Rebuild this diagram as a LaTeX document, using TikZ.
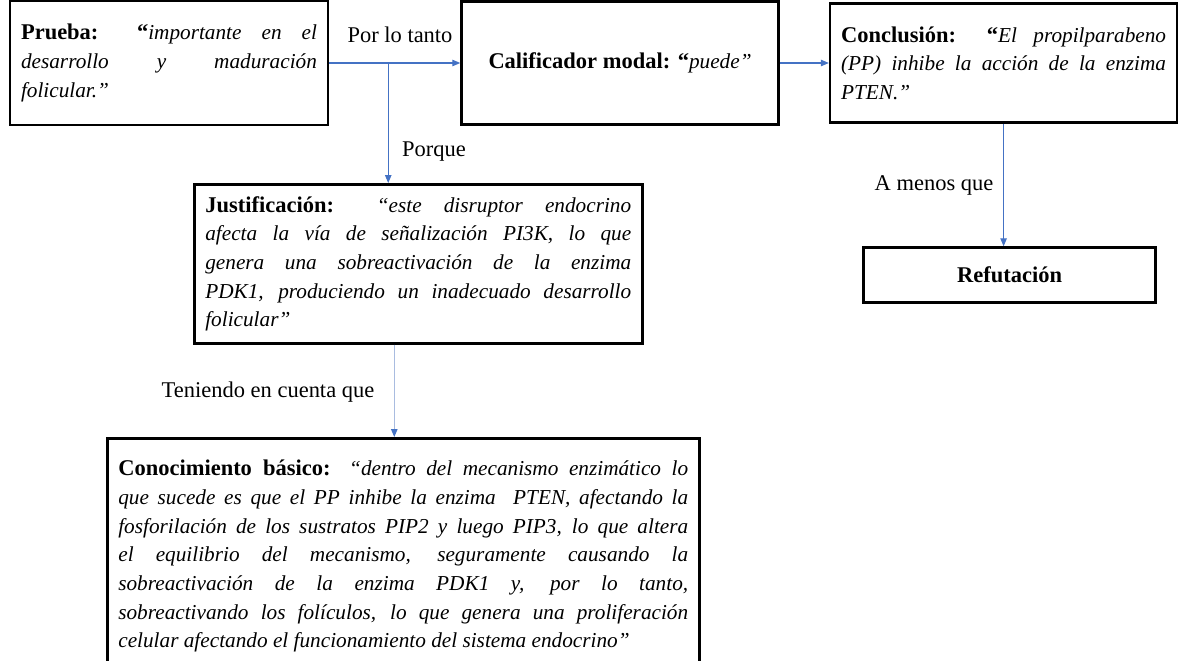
\documentclass[tikz,border=0pt]{standalone}
\usepackage{fontspec}
\setmainfont{Liberation Serif}
\usetikzlibrary{arrows.meta, positioning, calc}
\definecolor{linkblue}{HTML}{4472C4}
\definecolor{linkpale}{HTML}{A9BCE0}
\hyphenpenalty=10000
\exhyphenpenalty=10000
\emergencystretch=2em
\newcommand{\quo}[1]{{\fontsize{12.1}{16.3}\selectfont\itshape #1}}

\begin{document}
\begin{tikzpicture}[
    x=0.02cm, y=0.02cm,
    every node/.style={font=\fontsize{12.8}{16.3}\selectfont},
    blk/.style={rectangle, draw, line width=1.5pt, inner xsep=0.22cm, inner ysep=0pt, align=justify},
    lbl/.style={inner sep=1pt},
    arr/.style={-{Triangle[length=1.6mm, width=1.3mm, color=linkblue]}, linkblue, line width=0.6pt},
    arrpale/.style={arr, draw=linkpale}
]
    \useasboundingbox (0,0) rectangle (1181,-660);
    \node[blk, text width=5.92cm, minimum width=6.36cm, minimum height=2.48cm] (prueba) at (169,-63)
        {\textbf{Prueba: “}\quo{importante en el\linebreak desarrollo y maduración\linebreak folicular.”}};
    \node[blk, align=center, minimum width=6.34cm, minimum height=2.46cm, right=2.62cm of prueba] (calif)
        {\textbf{Calificador modal: “}\quo{puede”}};
    \node[blk, text width=6.5cm, minimum width=6.94cm, minimum height=2.38cm, right=0.98cm of calif] (concl)
        {\textbf{Conclusión: “}\quo{El propilparabeno\linebreak (PP) inhibe la acción de la enzima\linebreak PTEN.”}};
    \node[blk, align=center, minimum width=5.84cm, minimum height=1.1cm, below=2.45cm of concl, xshift=0.12cm] (refut)
        {\textbf{Refutación}};
    \node[blk, text width=8.52cm, minimum width=8.96cm, minimum height=3.18cm, anchor=north west] (justif) at (193,-183)
        {\textbf{Justificación:} \quo{“este disruptor endocrino\linebreak afecta la vía de señalización PI3K, lo que\linebreak genera una sobreactivación de la enzima\linebreak PDK1, produciendo un inadecuado desarrollo\linebreak folicular”}};
    \node[blk, text width=11.4cm, minimum width=11.84cm, minimum height=4.72cm, anchor=north west] (conoc) at (106,-437)
        {\textbf{Conocimiento básico:} \quo{“dentro del mecanismo enzimático lo\linebreak que sucede es que el PP inhibe la enzima \ PTEN, afectando la\linebreak fosforilación de los sustratos PIP2 y luego PIP3, lo que altera\linebreak el equilibrio del mecanismo, seguramente causando la\linebreak sobreactivación de la enzima PDK1 y, por lo tanto,\linebreak sobreactivando los folículos, lo que genera una proliferación\linebreak celular afectando el funcionamiento del sistema endocrino”}};
    % connectors
    \coordinate (split) at ($(prueba.east)!0.45!(calif.west)$);
    \coordinate (jbot) at ($(justif.south)+(-24,0)$);
    \draw[arr] (prueba.east) -- (calif.west);
    \draw[arr] (split) -- (split |- justif.north);
    \draw[arr] (calif.east) -- (concl.west);
    \draw[arr] (concl.south) -- (concl.south |- refut.north);
    \draw[arrpale] (jbot) -- (jbot |- conoc.north);
    % labels
    \node[lbl] (tanto) at (400,-35) {Por lo tanto};
    \node[lbl] (porque) at (434,-152) {Porque};
    \node[lbl] (menos) at (934,-185) {A menos que};
    \node[lbl] (cuenta) at (268,-392) {Teniendo en cuenta que};
\end{tikzpicture}
\end{document}
